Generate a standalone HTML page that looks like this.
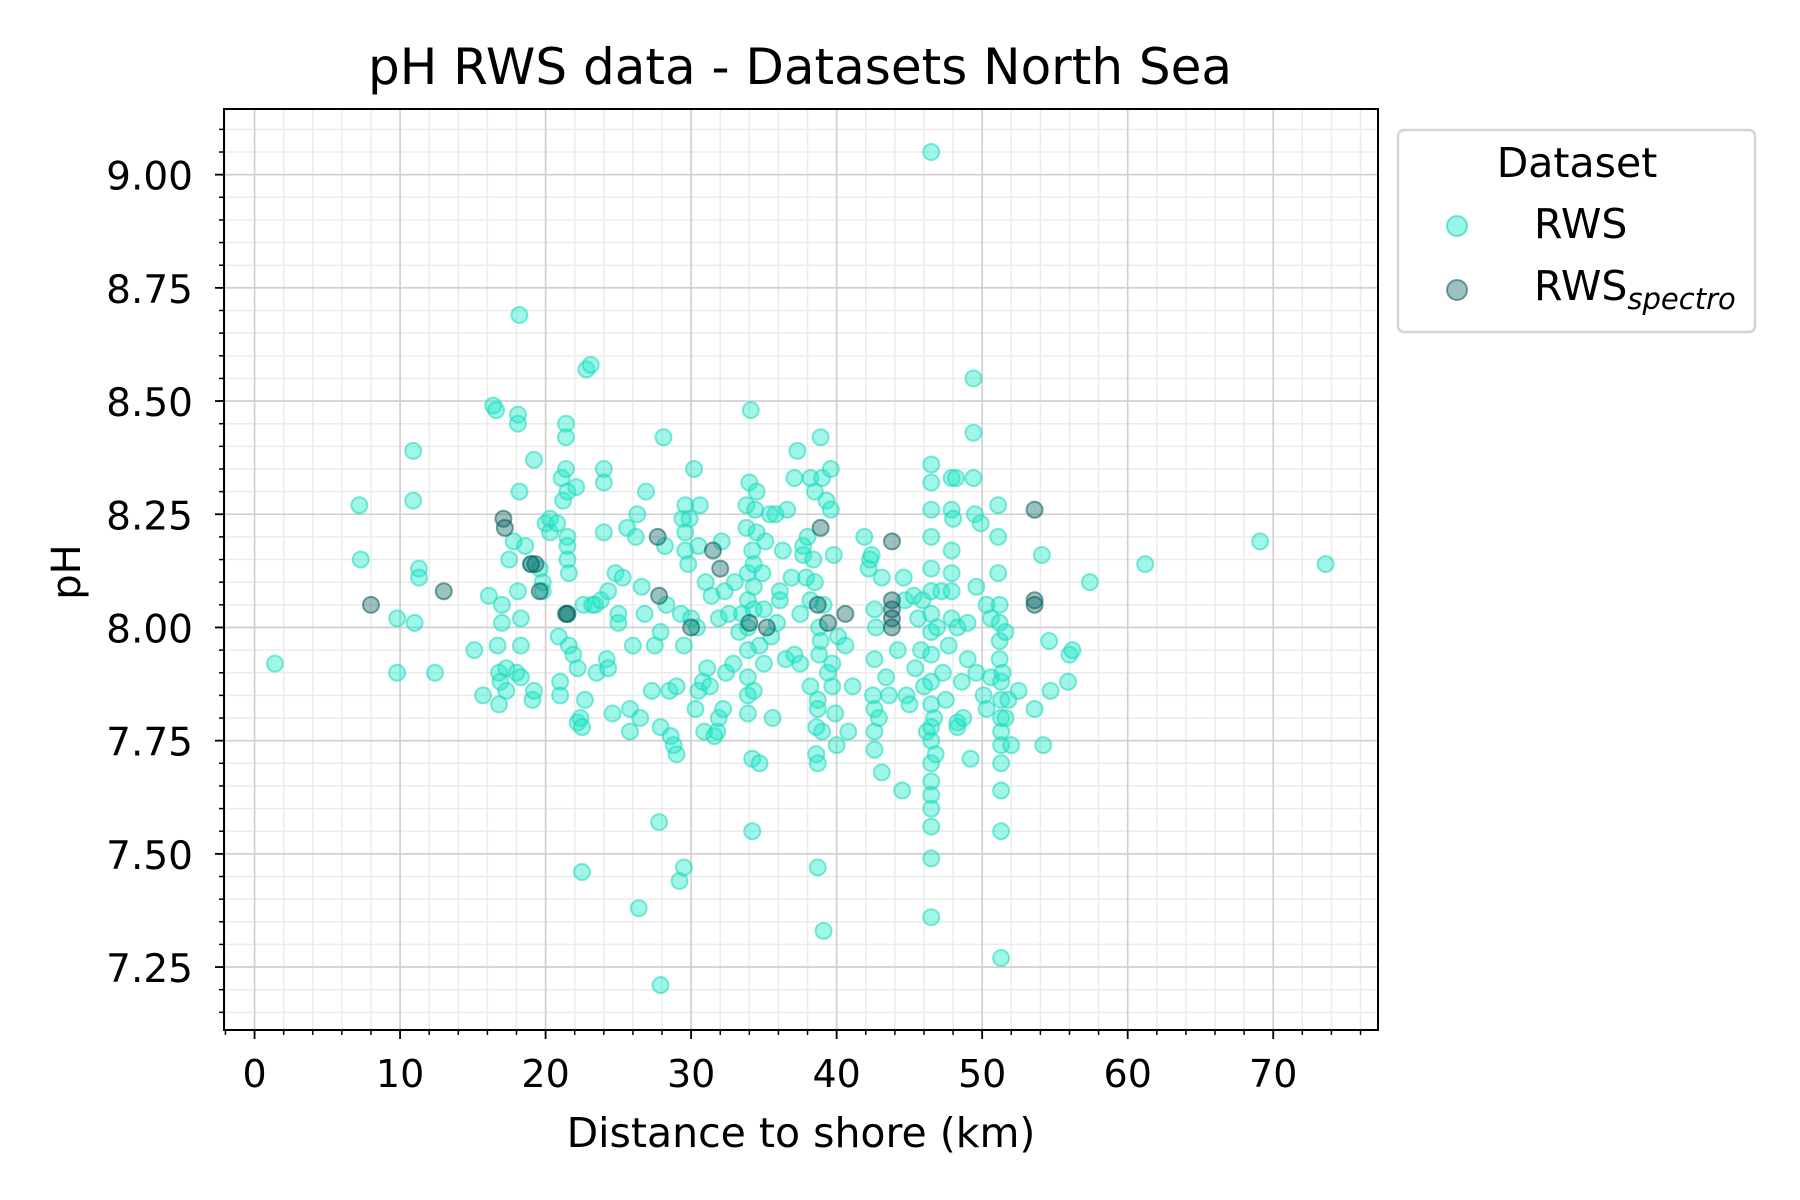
<!DOCTYPE html>
<html><head><meta charset="utf-8"><style>
html,body{margin:0;padding:0;background:#fff;}
svg{display:block;font-family:"DejaVu Sans","Liberation Sans",sans-serif;}
</style></head><body>
<svg id="chart" width="1800" height="1200" viewBox="0 0 1800 1200">
<rect width="1800" height="1200" fill="#fff"/>
<g id="grid"></g>
<g id="pts"></g>
<rect x="224" y="109" width="1154" height="921" fill="none" stroke="#000" stroke-width="2"/>
<g id="ticks"></g>
<text x="800" y="84" text-anchor="middle" font-size="50">pH RWS data - Datasets North Sea</text>
<text x="801" y="1147" text-anchor="middle" font-size="41">Distance to shore (km)</text>
<text x="0" y="0" transform="translate(80,572) rotate(-90)" text-anchor="middle" font-size="40">pH</text>
<g>
<rect x="1398" y="130" width="357" height="202" rx="6" fill="#fff" stroke="#d4d4d4" stroke-width="2.5"/>
<text x="1577" y="177" text-anchor="middle" font-size="41">Dataset</text>
<circle cx="1457" cy="226" r="10" fill="rgba(29,233,201,0.45)" stroke="rgba(29,210,180,0.6)" stroke-width="2"/>
<text x="1534" y="238" font-size="41">RWS</text>
<circle cx="1457" cy="290" r="10" fill="rgba(11,100,100,0.4)" stroke="rgba(11,90,90,0.55)" stroke-width="2"/>
<text x="1534" y="300" font-size="41">RWS<tspan font-size="29" font-style="italic" dy="9">spectro</tspan></text>
</g>
</svg>
<script>
const rwsX=[1.4,7.2,7.3,9.8,9.8,10.9,10.9,11.0,11.3,11.3,12.4,15.1,15.7,16.1,16.4,16.6,16.7,16.8,16.8,16.9,17.0,17.0,17.3,17.3,17.5,17.8,18.0,18.1,18.1,18.2,18.2,18.1,18.3,18.3,18.3,18.6,19.0,19.1,19.2,19.2,19.6,19.8,19.8,20.0,20.3,20.3,20.8,20.9,21.0,21.0,21.1,21.2,21.4,21.4,21.4,21.5,21.5,21.5,21.5,21.6,21.5,21.6,21.9,22.1,22.2,22.2,22.4,22.5,22.5,22.6,22.7,22.8,23.1,23.2,23.4,23.5,23.8,24.0,24.0,24.0,24.2,24.3,24.3,24.6,24.8,25.0,25.0,25.3,25.6,25.8,25.8,26.0,26.2,26.3,26.4,26.5,26.6,26.8,26.9,27.3,27.5,27.8,27.9,27.9,27.9,28.1,28.2,28.3,28.5,28.6,28.8,29.0,29.0,29.2,29.3,29.4,29.5,29.5,29.6,29.6,29.6,29.8,29.9,30.0,30.2,30.3,30.4,30.5,30.5,30.6,30.8,30.9,31.0,31.1,31.3,31.4,31.6,31.8,31.9,31.9,32.1,32.2,32.3,32.4,32.6,32.9,33.0,33.3,33.5,33.8,33.8,33.9,33.9,33.9,33.9,33.9,33.9,33.9,34.0,34.1,34.2,34.2,34.2,34.3,34.3,34.3,34.3,34.4,34.5,34.5,34.7,34.7,34.9,35.0,35.0,35.1,35.4,35.5,35.6,35.8,35.9,36.1,36.1,36.3,36.5,36.6,36.9,37.1,37.1,37.3,37.5,37.5,37.7,37.7,37.9,38.0,38.2,38.2,38.2,38.4,38.5,38.5,38.6,38.6,38.7,38.7,38.7,38.7,38.8,38.8,38.9,38.9,39.0,39.0,39.1,39.1,39.3,39.4,39.6,39.6,39.7,39.7,39.8,39.9,40.0,40.1,40.6,40.8,41.1,41.9,42.2,42.3,42.4,42.5,42.6,42.6,42.6,42.6,42.6,42.7,42.9,43.1,43.1,43.4,43.6,44.2,44.5,44.6,44.7,44.8,45.0,45.3,45.4,45.6,45.8,45.9,46.0,46.2,46.5,46.5,46.5,46.5,46.5,46.5,46.5,46.5,46.5,46.5,46.5,46.5,46.5,46.5,46.5,46.5,46.5,46.5,46.5,46.5,46.5,46.7,46.8,46.9,47.2,47.3,47.5,47.7,47.9,47.9,47.9,47.9,47.9,47.9,48.0,48.2,48.3,48.3,48.3,48.6,48.7,49.0,49.0,49.2,49.4,49.4,49.4,49.5,49.6,49.6,49.9,50.1,50.3,50.3,50.6,50.6,51.1,51.1,51.1,51.2,51.2,51.2,51.2,51.3,51.3,51.3,51.3,51.3,51.3,51.3,51.3,51.3,51.4,51.6,51.6,51.8,52.0,52.5,53.6,54.1,54.2,54.6,54.7,55.9,56.0,56.2,57.4,61.2,69.1,73.6];
const rwsY=[7.92,8.27,8.15,8.02,7.90,8.39,8.28,8.01,8.13,8.11,7.90,7.95,7.85,8.07,8.49,8.48,7.96,7.90,7.83,7.88,8.05,8.01,7.91,7.86,8.15,8.19,7.90,8.47,8.45,8.69,8.30,8.08,8.02,7.96,7.89,8.18,8.14,7.84,7.86,8.37,8.13,8.10,8.08,8.23,8.21,8.24,8.23,7.98,7.88,7.85,8.33,8.28,8.45,8.42,8.35,8.30,8.20,8.18,8.15,8.12,8.03,7.96,7.94,8.31,7.91,7.79,7.80,7.78,7.46,8.05,7.84,8.57,8.58,8.05,8.05,7.90,8.06,8.35,8.32,8.21,7.93,7.91,8.08,7.81,8.12,8.03,8.01,8.11,8.22,7.82,7.77,7.96,8.20,8.25,7.38,7.80,8.09,8.03,8.30,7.86,7.96,7.57,7.21,7.78,7.99,8.42,8.18,8.05,7.86,7.76,7.74,7.72,7.87,7.44,8.03,8.24,7.47,7.96,8.27,8.21,8.17,8.14,8.24,8.02,8.35,7.82,8.00,7.86,8.18,8.27,7.88,7.77,8.10,7.91,7.87,8.07,7.76,7.77,8.02,7.80,8.19,7.82,8.08,7.90,8.03,7.92,8.10,7.99,8.03,8.27,8.22,8.12,8.06,8.00,7.95,7.89,7.85,7.81,8.32,8.48,7.71,7.55,8.17,8.14,8.09,8.04,7.86,8.26,8.21,8.30,7.70,7.96,8.12,8.04,7.92,8.19,8.25,7.98,7.80,8.25,8.01,8.08,8.06,8.17,7.93,8.26,8.11,7.94,8.33,8.39,8.03,7.92,8.16,8.18,8.11,8.20,8.33,7.87,8.06,8.15,8.10,8.30,7.78,7.72,7.70,7.47,7.84,7.82,7.94,8.00,8.42,7.97,8.33,7.77,7.33,8.05,8.28,7.90,8.35,8.26,7.92,7.87,8.16,7.81,7.74,7.98,7.96,7.77,7.87,8.20,8.13,8.15,8.16,7.85,8.04,7.93,7.82,7.77,7.73,8.00,7.80,7.68,8.11,7.89,7.85,7.95,7.64,8.11,8.06,7.85,7.83,8.07,7.91,8.02,7.95,8.06,7.87,7.77,9.05,8.36,8.32,8.26,8.20,8.13,8.08,8.03,7.99,7.94,7.88,7.83,7.78,7.75,7.70,7.66,7.63,7.60,7.56,7.49,7.36,7.80,7.72,8.00,8.08,7.90,7.84,7.96,8.33,8.26,8.17,8.12,8.08,8.02,8.24,8.33,7.79,7.78,8.00,7.88,7.80,8.01,7.93,7.71,8.55,8.43,8.33,8.25,8.09,7.90,8.23,7.85,8.05,7.82,8.02,7.89,8.27,8.20,8.12,8.05,8.01,7.97,7.93,7.88,7.84,7.80,7.77,7.74,7.70,7.64,7.55,7.27,7.90,7.99,7.80,7.84,7.74,7.86,7.82,8.16,7.74,7.97,7.86,7.88,7.94,7.95,8.10,8.14,8.19,8.14];
const spX=[8.0,13.0,17.1,17.2,19.0,19.3,19.6,21.4,21.5,27.7,27.8,30.0,31.5,32.0,34.0,35.2,38.7,38.9,39.4,40.6,43.8,43.8,43.8,43.8,43.8,53.6,53.6,53.6];
const spY=[8.05,8.08,8.24,8.22,8.14,8.14,8.08,8.03,8.03,8.20,8.07,8.00,8.17,8.13,8.01,8.00,8.05,8.22,8.01,8.03,8.19,8.06,8.04,8.02,8.00,8.26,8.06,8.05];
const xTicks=[0,10,20,30,40,50,60,70];
const yTicks=[7.25,7.50,7.75,8.00,8.25,8.50,8.75,9.00];
const NS="http://www.w3.org/2000/svg";
const L=224,R=1378,T=109,B=1030;
const xMin=-2.1,xMax=77.2,yMin=7.111,yMax=9.145;
function sx(v){return L+(v-xMin)/(xMax-xMin)*(R-L);}
function sy(v){return B-(v-yMin)/(yMax-yMin)*(B-T);}
function mk(tag,attrs,parent){const e=document.createElementNS(NS,tag);for(const k in attrs)e.setAttribute(k,attrs[k]);parent.appendChild(e);return e;}
const grid=document.getElementById('grid'),ticks=document.getElementById('ticks'),pts=document.getElementById('pts');
for(let v=-2;v<=77;v+=2){const x=sx(v);const e=mk('line',{x1:x,x2:x,y1:T,y2:B,stroke:'#ebebeb','stroke-width':1.5},grid);


const t=mk('line',{x1:x,x2:x,y1:B,y2:B+5,stroke:'#000','stroke-width':1.5},ticks);

}
for(let i=0;;i++){const v=7.15+i*0.05;if(v>9.14)break;const y=sy(v);const e=mk('line',{x1:L,x2:R,y1:y,y2:y,stroke:'#ebebeb','stroke-width':1.5},grid);


const t=mk('line',{x1:L-5,x2:L,y1:y,y2:y,stroke:'#000','stroke-width':1.5},ticks);

}
xTicks.forEach(v=>{const x=sx(v);const g=mk('line',{x1:x,x2:x,y1:T,y2:B,stroke:'#cfcfcf','stroke-width':1.6},grid);


const t=mk('line',{x1:x,x2:x,y1:B,y2:B+9,stroke:'#000','stroke-width':1.8},ticks);


const tx=mk('text',{x:x,y:B+57,'text-anchor':'middle','font-size':38},ticks);tx.textContent=v;

});
yTicks.forEach(v=>{const y=sy(v);const g=mk('line',{x1:L,x2:R,y1:y,y2:y,stroke:'#cfcfcf','stroke-width':1.6},grid);


const t=mk('line',{x1:L-9,x2:L,y1:y,y2:y,stroke:'#000','stroke-width':1.8},ticks);


const tx=mk('text',{x:L-31,y:y+15,'text-anchor':'end','font-size':39},ticks);tx.textContent=v.toFixed(2);

});
rwsX.forEach((v,i)=>{const c=mk('circle',{cx:sx(v),cy:sy(rwsY[i]),r:8,fill:'rgba(29,233,201,0.42)',stroke:'rgba(29,215,185,0.55)','stroke-width':2},pts);

});
spX.forEach((v,i)=>{const c=mk('circle',{cx:sx(v),cy:sy(spY[i]),r:8,fill:'rgba(11,100,100,0.4)',stroke:'rgba(11,90,90,0.55)','stroke-width':2},pts);

});
</script>
</body></html>
